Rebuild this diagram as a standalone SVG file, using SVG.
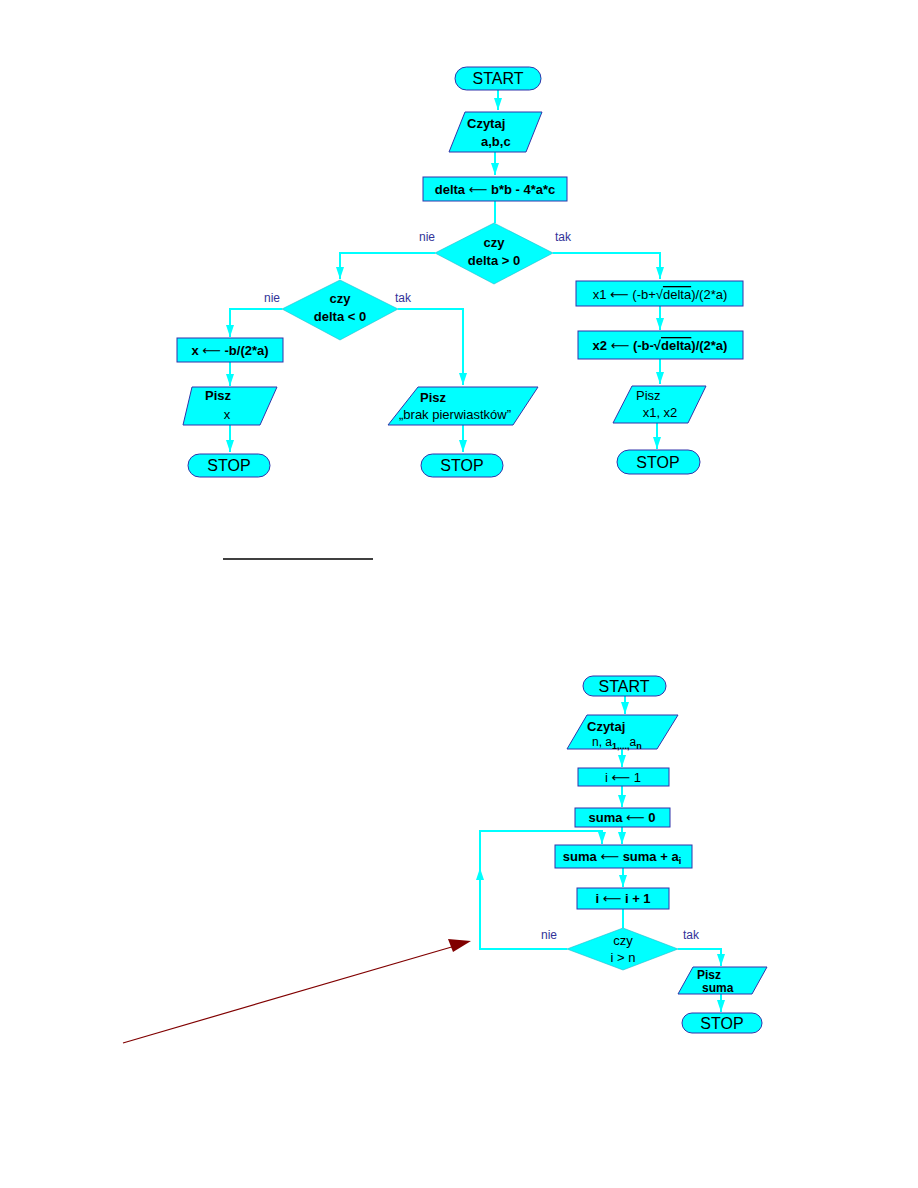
<svg xmlns="http://www.w3.org/2000/svg" width="918" height="1188" viewBox="0 0 918 1188">
<defs>
<style>
.box{fill:#00FFFF;stroke:#3333aa;stroke-width:1}
.dia{fill:#00FFFF;stroke:#22bbcc;stroke-width:0.6}
.con{fill:none;stroke:#00FFFF;stroke-width:2}
text{font-family:"Liberation Sans",Arial,sans-serif;fill:#000}
.t{font-size:13px;text-anchor:middle}
.tb{font-size:13px;font-weight:bold;text-anchor:middle}
.term{font-size:16px;text-anchor:middle}
.lbl{font-size:12px;fill:#333399}
.ov{text-decoration:overline}
.arw{font-family:"DejaVu Sans",sans-serif;font-weight:normal}
</style>
<marker id="ar" markerUnits="userSpaceOnUse" markerWidth="8" markerHeight="12" refX="4" refY="12" orient="0" viewBox="0 0 8 12">
<path d="M0,0 L8,0 L4,12 z" fill="#00FFFF"/>
</marker>
<marker id="arU" markerUnits="userSpaceOnUse" markerWidth="8" markerHeight="12" refX="4" refY="0" orient="0" viewBox="0 0 8 12">
<path d="M4,0 L8,12 L0,12 z" fill="#00FFFF"/>
</marker>
</defs>
<rect width="918" height="1188" fill="#fff"/>

<g id="connectors">
<line class="con" x1="498" y1="90" x2="498" y2="110" marker-end="url(#ar)"/>
<line class="con" x1="495" y1="152" x2="495" y2="175" marker-end="url(#ar)"/>
<line class="con" x1="495" y1="201" x2="495" y2="223"/>
<polyline class="con" points="435,253 340,253 340,279" marker-end="url(#ar)"/>
<polyline class="con" points="553,253 660,253 660,279" marker-end="url(#ar)"/>
<polyline class="con" points="282,309 230,309 230,337" marker-end="url(#ar)"/>
<line class="con" x1="230" y1="362" x2="230" y2="386" marker-end="url(#ar)"/>
<line class="con" x1="230" y1="425" x2="230" y2="452" marker-end="url(#ar)"/>
<polyline class="con" points="398,309 463,309 463,385" marker-end="url(#ar)"/>
<line class="con" x1="463" y1="425" x2="463" y2="452" marker-end="url(#ar)"/>
<line class="con" x1="660" y1="306" x2="660" y2="330" marker-end="url(#ar)"/>
<line class="con" x1="660" y1="359" x2="660" y2="384" marker-end="url(#ar)"/>
<line class="con" x1="657" y1="423" x2="657" y2="449" marker-end="url(#ar)"/>

<line class="con" x1="625" y1="696" x2="625" y2="714" marker-end="url(#ar)"/>
<line class="con" x1="622" y1="749" x2="622" y2="767" marker-end="url(#ar)"/>
<line class="con" x1="622" y1="786" x2="622" y2="807" marker-end="url(#ar)"/>
<line class="con" x1="622" y1="827" x2="622" y2="844" marker-end="url(#ar)"/>
<line class="con" x1="623" y1="868" x2="623" y2="887" marker-end="url(#ar)"/>
<line class="con" x1="623" y1="909" x2="623" y2="928"/>
<polyline class="con" points="567,949 480,949 480,868" marker-end="url(#arU)"/>
<polyline class="con" points="480,870 480,831 602,831 602,844" marker-end="url(#ar)"/>
<polyline class="con" points="678,949 721,949 721,966" marker-end="url(#ar)"/>
<line class="con" x1="721" y1="994" x2="721" y2="1012" marker-end="url(#ar)"/>
</g>

<g id="start1"><rect class="box" x="455" y="67" width="86" height="23" rx="11.5"/><text class="term" x="498" y="84">START</text></g>
<g id="read1"><polygon class="box" points="465,112 542,112 526,152 449,152"/><text x="467" y="128" font-size="13" font-weight="bold">Czytaj</text><text x="481" y="146" font-size="13" font-weight="bold">a,b,c</text></g>
<g id="delta"><rect class="box" x="423" y="177" width="144" height="24"/><text class="tb" x="495" y="194">delta <tspan class="arw">⟵</tspan> b*b - 4*a*c</text></g>
<g id="dec1"><polygon class="dia" points="494,223 553,253 494,284 435,253"/><text class="tb" x="494" y="247">czy</text><text class="tb" x="494" y="265">delta &gt; 0</text></g>
<text class="lbl" x="419" y="241">nie</text>
<text class="lbl" x="555" y="241">tak</text>
<g id="dec2"><polygon class="dia" points="340,280 398,309 340,340 282,309"/><text class="tb" x="340" y="303">czy</text><text class="tb" x="340" y="321">delta &lt; 0</text></g>
<text class="lbl" x="264" y="302">nie</text>
<text class="lbl" x="395" y="302">tak</text>
<g id="xcalc"><rect class="box" x="177" y="338" width="106" height="24"/><text class="tb" x="230" y="355">x <tspan class="arw">⟵</tspan> -b/(2*a)</text></g>
<g id="printx"><polygon class="box" points="192,387 277,387 260,425 183,425"/><text x="205" y="400" font-size="13" font-weight="bold">Pisz</text><text class="t" x="227" y="419">x</text></g>
<g id="stop1"><rect class="box" x="188" y="454" width="82" height="23" rx="11.5"/><text class="term" x="229" y="471">STOP</text></g>
<g id="printbrak"><polygon class="box" points="418,387 538,387 513,425 388,425"/><text x="420" y="402" font-size="13" font-weight="bold">Pisz</text><text class="t" x="455" y="419" font-size="12">„brak pierwiastków”</text></g>
<g id="stop2"><rect class="box" x="421" y="454" width="82" height="23" rx="11.5"/><text class="term" x="462" y="471">STOP</text></g>
<g id="x1"><rect class="box" x="576" y="281" width="167" height="25"/><text class="t" x="660" y="299">x1 <tspan class="arw">⟵</tspan> (-b+√<tspan class="ov">delta</tspan>)/(2*a)</text></g>
<g id="x2"><rect class="box" x="578" y="331" width="165" height="28"/><text class="tb" x="660" y="350">x2 <tspan class="arw">⟵</tspan> (-b-√<tspan class="ov">delta</tspan>)/(2*a)</text></g>
<g id="printx12"><polygon class="box" points="632,386 706,386 688,423 613,423"/><text x="636" y="400" font-size="13">Pisz</text><text class="t" x="660" y="417">x1, x2</text></g>
<g id="stop3"><rect class="box" x="617" y="450" width="83" height="24" rx="12"/><text class="term" x="658" y="468">STOP</text></g>

<line x1="223" y1="559" x2="373" y2="559" stroke="#000" stroke-width="1.6"/>

<g id="start2"><rect class="box" x="583" y="676" width="83" height="20" rx="10"/><text class="term" x="624" y="692" font-size="15">START</text></g>
<g id="read2"><polygon class="box" points="587,715 678,715 657,749 567,749"/><text x="587" y="731" font-size="13" font-weight="bold">Czytaj</text><text x="592" y="746" font-size="12">n, a<tspan font-size="9" font-weight="bold" dy="3">1,...,</tspan><tspan dy="-3">a</tspan><tspan font-size="9" font-weight="bold" dy="3">n</tspan></text></g>
<g id="i1"><rect class="box" x="578" y="768" width="91" height="18"/><text class="t" x="623" y="782">i <tspan class="arw">⟵</tspan> 1</text></g>
<g id="suma0"><rect class="box" x="575" y="808" width="95" height="19"/><text class="tb" x="622" y="822">suma <tspan class="arw">⟵</tspan> 0</text></g>
<g id="sumadd"><rect class="box" x="555" y="845" width="137" height="23"/><text class="tb" x="622" y="861">suma <tspan class="arw">⟵</tspan> suma + a<tspan font-size="9" dy="3">i</tspan></text></g>
<g id="iinc"><rect class="box" x="577" y="888" width="92" height="21"/><text class="tb" x="623" y="903">i <tspan class="arw">⟵</tspan> i + 1</text></g>
<g id="dec3"><polygon class="dia" points="623,928 678,949 623,970 567,949"/><text class="t" x="623" y="945">czy</text><text class="t" x="623" y="962" font-size="12">i &gt; n</text></g>
<text class="lbl" x="541" y="939">nie</text>
<text class="lbl" x="683" y="939">tak</text>
<g id="printsuma"><polygon class="box" points="693,967 767,967 752,994 678,994"/><text x="697" y="979" font-size="12" font-weight="bold">Pisz</text><text x="702" y="992" font-size="12" font-weight="bold">suma</text></g>
<g id="stop4"><rect class="box" x="682" y="1013" width="80" height="20" rx="10"/><text class="term" x="722" y="1029" font-size="15">STOP</text></g>

<g id="redarrow">
<line x1="123" y1="1043" x2="455" y2="946" stroke="#800000" stroke-width="1.2"/>
<polygon points="471,941 448,939 453,952" fill="#800000"/>
</g>
</svg>
